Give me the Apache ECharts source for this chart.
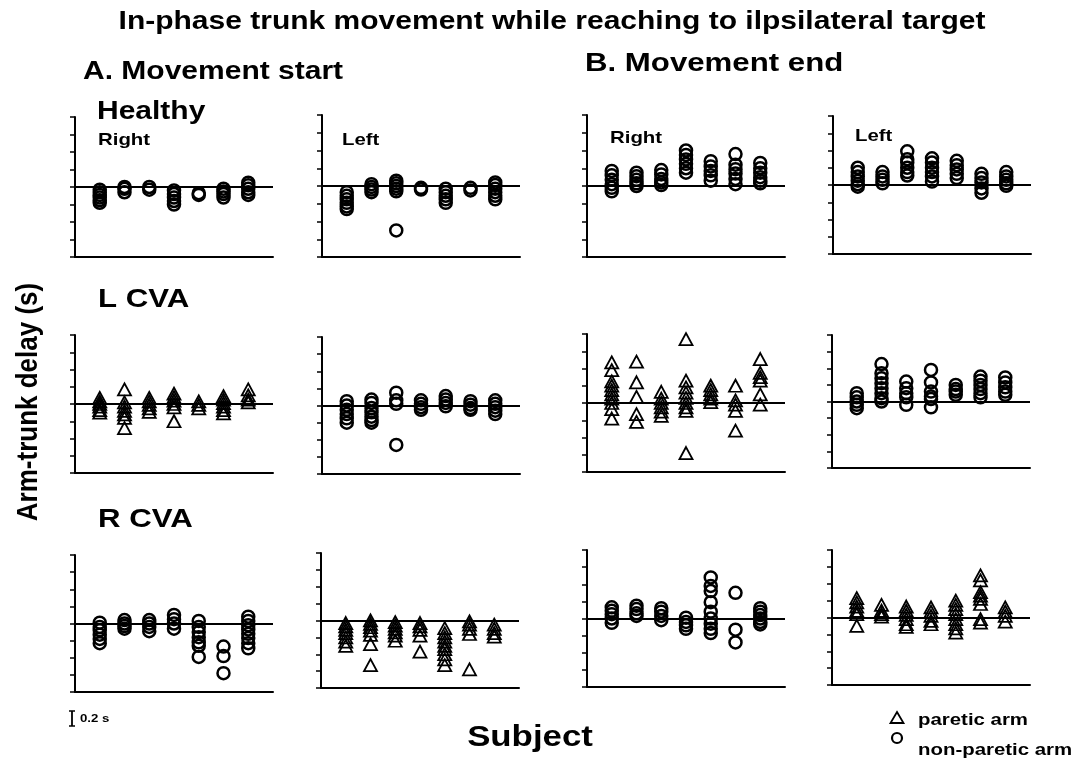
<!DOCTYPE html>
<html>
<head>
<meta charset="utf-8">
<script src="https://cdn.jsdelivr.net/npm/echarts@6/dist/echarts.min.js"></script>
<style>html,body{margin:0;padding:0;background:#fff}#c{width:1079px;height:761px}</style>
</head>
<body>
<div id="c"></div>
<script>
// ---- data (arm-trunk delay in seconds, per subject 1..7) ----
const subjects = [1, 2, 3, 4, 5, 6, 7];
const yTicks = [-0.8, -0.6, -0.4, -0.2, 0, 0.2, 0.4, 0.6, 0.8];

const healthyStartRight = [[-0.03,-0.06,-0.09,-0.12,-0.15,-0.18],[0.0,-0.02,-0.06],[0.0,-0.03],[-0.04,-0.08,-0.12,-0.16,-0.2],[-0.07,-0.09],[-0.02,-0.05,-0.08,-0.12],[0.05,0.02,-0.02,-0.06,-0.09]];
const healthyStartLeft = [[-0.07,-0.11,-0.15,-0.19,-0.23,-0.26],[0.02,-0.01,-0.04,-0.07],[0.06,0.03,0,-0.03,-0.06,-0.5],[-0.02,-0.04],[-0.03,-0.07,-0.11,-0.15,-0.19],[-0.02,-0.05],[0.04,0.01,-0.03,-0.07,-0.11,-0.15]];
const healthyEndRight = [[0.17,0.12,0.07,0.02,-0.02,-0.06],[0.15,0.11,0.07,0.03,0.0],[0.18,0.13,0.08,0.04,0.01],[0.4,0.35,0.3,0.25,0.2,0.15],[0.28,0.22,0.17,0.12,0.06],[0.36,0.24,0.19,0.14,0.08,0.02],[0.26,0.2,0.15,0.1,0.06,0.03]];
const healthyEndLeft = [[0.2,0.15,0.1,0.05,0.01,-0.02],[0.15,0.1,0.06,0.02],[0.39,0.3,0.26,0.2,0.15,0.11],[0.31,0.26,0.2,0.15,0.1,0.04],[0.28,0.23,0.18,0.13,0.08],[0.13,0.08,0.03,-0.04,-0.09],[0.15,0.1,0.06,0.02,-0.01]];

const lcvaStartRight = [[0.07,0.03,0,-0.03,-0.07,-0.1],[0.17,0.02,-0.03,-0.08,-0.12,-0.16,-0.28],[0.07,0.03,-0.01,-0.05,-0.09],[0.12,0.08,0.04,0,-0.04,-0.2],[0.03,-0.01,-0.05],[0.09,0.05,0.01,-0.03,-0.07,-0.11],[0.17,0.1,0.05,0.02]];
const lcvaStartLeft = [[0.05,0.0,-0.05,-0.1,-0.15,-0.2],[0.07,0.03,-0.03,-0.08,-0.13,-0.17,-0.2],[0.15,0.06,0.02,-0.46],[0.06,0.02,-0.02,-0.05],[0.11,0.07,0.03,-0.01],[0.05,0.01,-0.03,-0.05],[0.06,0.02,-0.02,-0.06,-0.1]];
const lcvaEndRight = [[0.47,0.38,0.25,0.2,0.15,0.1,0.05,0,-0.07,-0.18],[0.48,0.24,0.07,-0.13,-0.22],[0.13,0.05,0,-0.05,-0.1,-0.15],[0.74,0.26,0.18,0.12,0.06,0,-0.05,-0.09,-0.58],[0.2,0.15,0.1,0.05,0.01],[0.2,0.03,-0.02,-0.09,-0.32],[0.51,0.35,0.3,0.26,0.1,-0.02]];
const lcvaEndLeft = [[0.1,0.05,0,-0.04,-0.08],[0.45,0.34,0.28,0.22,0.16,0.1,0.04,0],[0.24,0.16,0.1,0.05,-0.04],[0.38,0.23,0.12,0.06,0.03,-0.07],[0.2,0.15,0.12,0.08],[0.3,0.25,0.2,0.15,0.1,0.05],[0.29,0.23,0.17,0.12,0.08]];

const rcvaStartRight = [[0.01,-0.04,-0.08,-0.13,-0.18,-0.23],[0.04,0,-0.03,-0.06],[0.04,0,-0.04,-0.09],[0.1,0.05,0,-0.06],[0.03,-0.04,-0.1,-0.16,-0.22,-0.26,-0.39],[-0.27,-0.38,-0.58],[0.08,0.03,-0.02,-0.07,-0.12,-0.17,-0.23,-0.29]];
const rcvaStartLeft = [[-0.03,-0.07,-0.11,-0.15,-0.2,-0.25,-0.3],[0,-0.04,-0.08,-0.12,-0.17,-0.28,-0.53],[-0.02,-0.06,-0.1,-0.14,-0.18,-0.24],[-0.03,-0.07,-0.11,-0.18,-0.37],[-0.09,-0.15,-0.2,-0.25,-0.3,-0.34,-0.4,-0.46,-0.53],[-0.01,-0.05,-0.1,-0.16,-0.58],[-0.05,-0.1,-0.15,-0.19]];
const rcvaEndRight = [[0.13,0.09,0.05,0,-0.05],[0.15,0.11,0.06,0.03],[0.12,0.08,0.03,-0.02],[0.01,-0.04,-0.08,-0.12],[0.48,0.38,0.32,0.19,0.08,0,-0.06,-0.12,-0.17],[0.3,-0.13,-0.28],[0.12,0.08,0.04,0,-0.04,-0.07]];
const rcvaEndLeft = [[0.23,0.18,0.13,0.08,0.04,-0.1],[0.15,0.08,0.04,0.01],[0.13,0.08,0.03,-0.02,-0.08,-0.11],[0.12,0.07,0.02,-0.04,-0.08],[0.2,0.15,0.1,0.04,-0.02,-0.08,-0.13,-0.18],[0.5,0.44,0.3,0.26,0.22,0.16,-0.02,-0.06],[0.12,0.07,0.02,-0.05]];

const PARETIC = 'paretic arm', NONPARETIC = 'non-paretic arm';

// panel layout: [data, markerGroup, left, top, bottom]
const panels = [
  [healthyStartRight, NONPARETIC, 75, 117, 257],
  [healthyStartLeft, NONPARETIC, 322, 115, 257],
  [healthyEndRight, NONPARETIC, 587, 115, 257],
  [healthyEndLeft, NONPARETIC, 833, 116, 254],
  [lcvaStartRight, PARETIC, 75, 335, 473],
  [lcvaStartLeft, NONPARETIC, 322, 337, 474],
  [lcvaEndRight, PARETIC, 587, 334, 472],
  [lcvaEndLeft, NONPARETIC, 832, 335, 468],
  [rcvaStartRight, NONPARETIC, 75, 555, 692],
  [rcvaStartLeft, PARETIC, 321, 553, 688],
  [rcvaEndRight, NONPARETIC, 587, 550, 687],
  [rcvaEndLeft, PARETIC, 832, 550, 685]
];

const CIRCLE_SIZE = 12, TRI_SIZE = [13, 12];
const grids = [], xAxes = [], yAxes = [], series = [];
panels.forEach((p, i) => {
  const [vals, group, left, top, bottom] = p;
  grids.push({left: left, top: top, width: 198, height: bottom - top});
  xAxes.push({type: 'value', gridIndex: i, min: 0, max: 8, interval: 1,
    axisLine: {onZero: false, lineStyle: {color: '#000', width: 2}},
    axisTick: {show: false}, axisLabel: {show: false}, splitLine: {show: false}});
  yAxes.push({type: 'value', gridIndex: i, min: yTicks[0], max: yTicks[yTicks.length - 1], interval: 0.2,
    axisLine: {show: true, onZero: false, lineStyle: {color: '#000', width: 2}},
    axisTick: {show: true, length: 5, lineStyle: {color: '#000', width: 1.5}},
    axisLabel: {show: false}, splitLine: {show: false}});
  const pts = [];
  vals.forEach((arr, si) => arr.forEach(v => pts.push([subjects[si], v])));
  const tri = group === PARETIC;
  series.push({
    type: 'scatter', name: group, xAxisIndex: i, yAxisIndex: i, data: pts,
    symbol: tri ? 'triangle' : 'circle', symbolSize: tri ? TRI_SIZE : CIRCLE_SIZE,
    itemStyle: {color: 'rgba(0,0,0,0)', borderColor: '#000', borderWidth: tri ? 1.8 : 2.5, opacity: 1},
    emphasis: {disabled: true}, silent: true,
    markLine: {silent: true, symbol: 'none', label: {show: false},
      lineStyle: {color: '#000', width: 2, type: 'solid'}, data: [{yAxis: 0}]}
  });
});

const F = '"Liberation Sans", Arial, sans-serif';
const SX = 1.2; // the printed lettering is wide
function txt(x, y, text, size, align) {
  return {type: 'text', silent: true, x: x, y: y, scaleX: SX,
    style: {x: 0, y: 0, text: text, font: 'bold ' + size + 'px ' + F, fill: '#000',
      textAlign: align || 'left', textVerticalAlign: 'middle'}};
}
const graphics = [
  txt(552, 22, 'In-phase trunk movement while reaching to ilpsilateral target', 25, 'center'),
  txt(83, 72, 'A. Movement start', 25),
  txt(585, 64, 'B. Movement end', 26),
  txt(97, 112, 'Healthy', 25),
  txt(98, 140, 'Right', 17),
  txt(342, 140, 'Left', 17),
  txt(610, 138, 'Right', 17),
  txt(855, 136, 'Left', 17),
  txt(98, 300, 'L CVA', 26),
  txt(98, 520, 'R CVA', 26),
  {type: 'text', silent: true, x: 29, y: 402, rotation: Math.PI / 2, scaleY: 1.15,
    style: {x: 0, y: 0, text: 'Arm-trunk delay (s)', font: 'bold 26px ' + F, fill: '#000', textAlign: 'center', textVerticalAlign: 'middle'}},
  txt(530, 738, 'Subject', 29, 'center'),
  // scale bar
  {type: 'line', silent: true, shape: {x1: 72, y1: 711, x2: 72, y2: 726}, style: {stroke: '#000', lineWidth: 1.8}},
  {type: 'line', silent: true, shape: {x1: 69, y1: 711, x2: 75, y2: 711}, style: {stroke: '#000', lineWidth: 1.5}},
  {type: 'line', silent: true, shape: {x1: 69, y1: 726, x2: 75, y2: 726}, style: {stroke: '#000', lineWidth: 1.5}},
  txt(80, 719, '0.2 s', 11),
  // legend
  {type: 'polygon', silent: true, shape: {points: [[897, 712], [903.5, 723], [890.5, 723]]},
    style: {fill: 'none', stroke: '#000', lineWidth: 1.8}},
  {type: 'circle', silent: true, shape: {cx: 897, cy: 738, r: 5},
    style: {fill: 'none', stroke: '#000', lineWidth: 2.2}},
  txt(918, 720, PARETIC, 17),
  txt(918, 750, NONPARETIC, 17)
];

const chart = echarts.init(document.getElementById('c'), null, {renderer: 'canvas'});
chart.setOption({
  animation: false,
  backgroundColor: '#fff',
  grid: grids, xAxis: xAxes, yAxis: yAxes, series: series,
  graphic: graphics
});
</script>
</body>
</html>
